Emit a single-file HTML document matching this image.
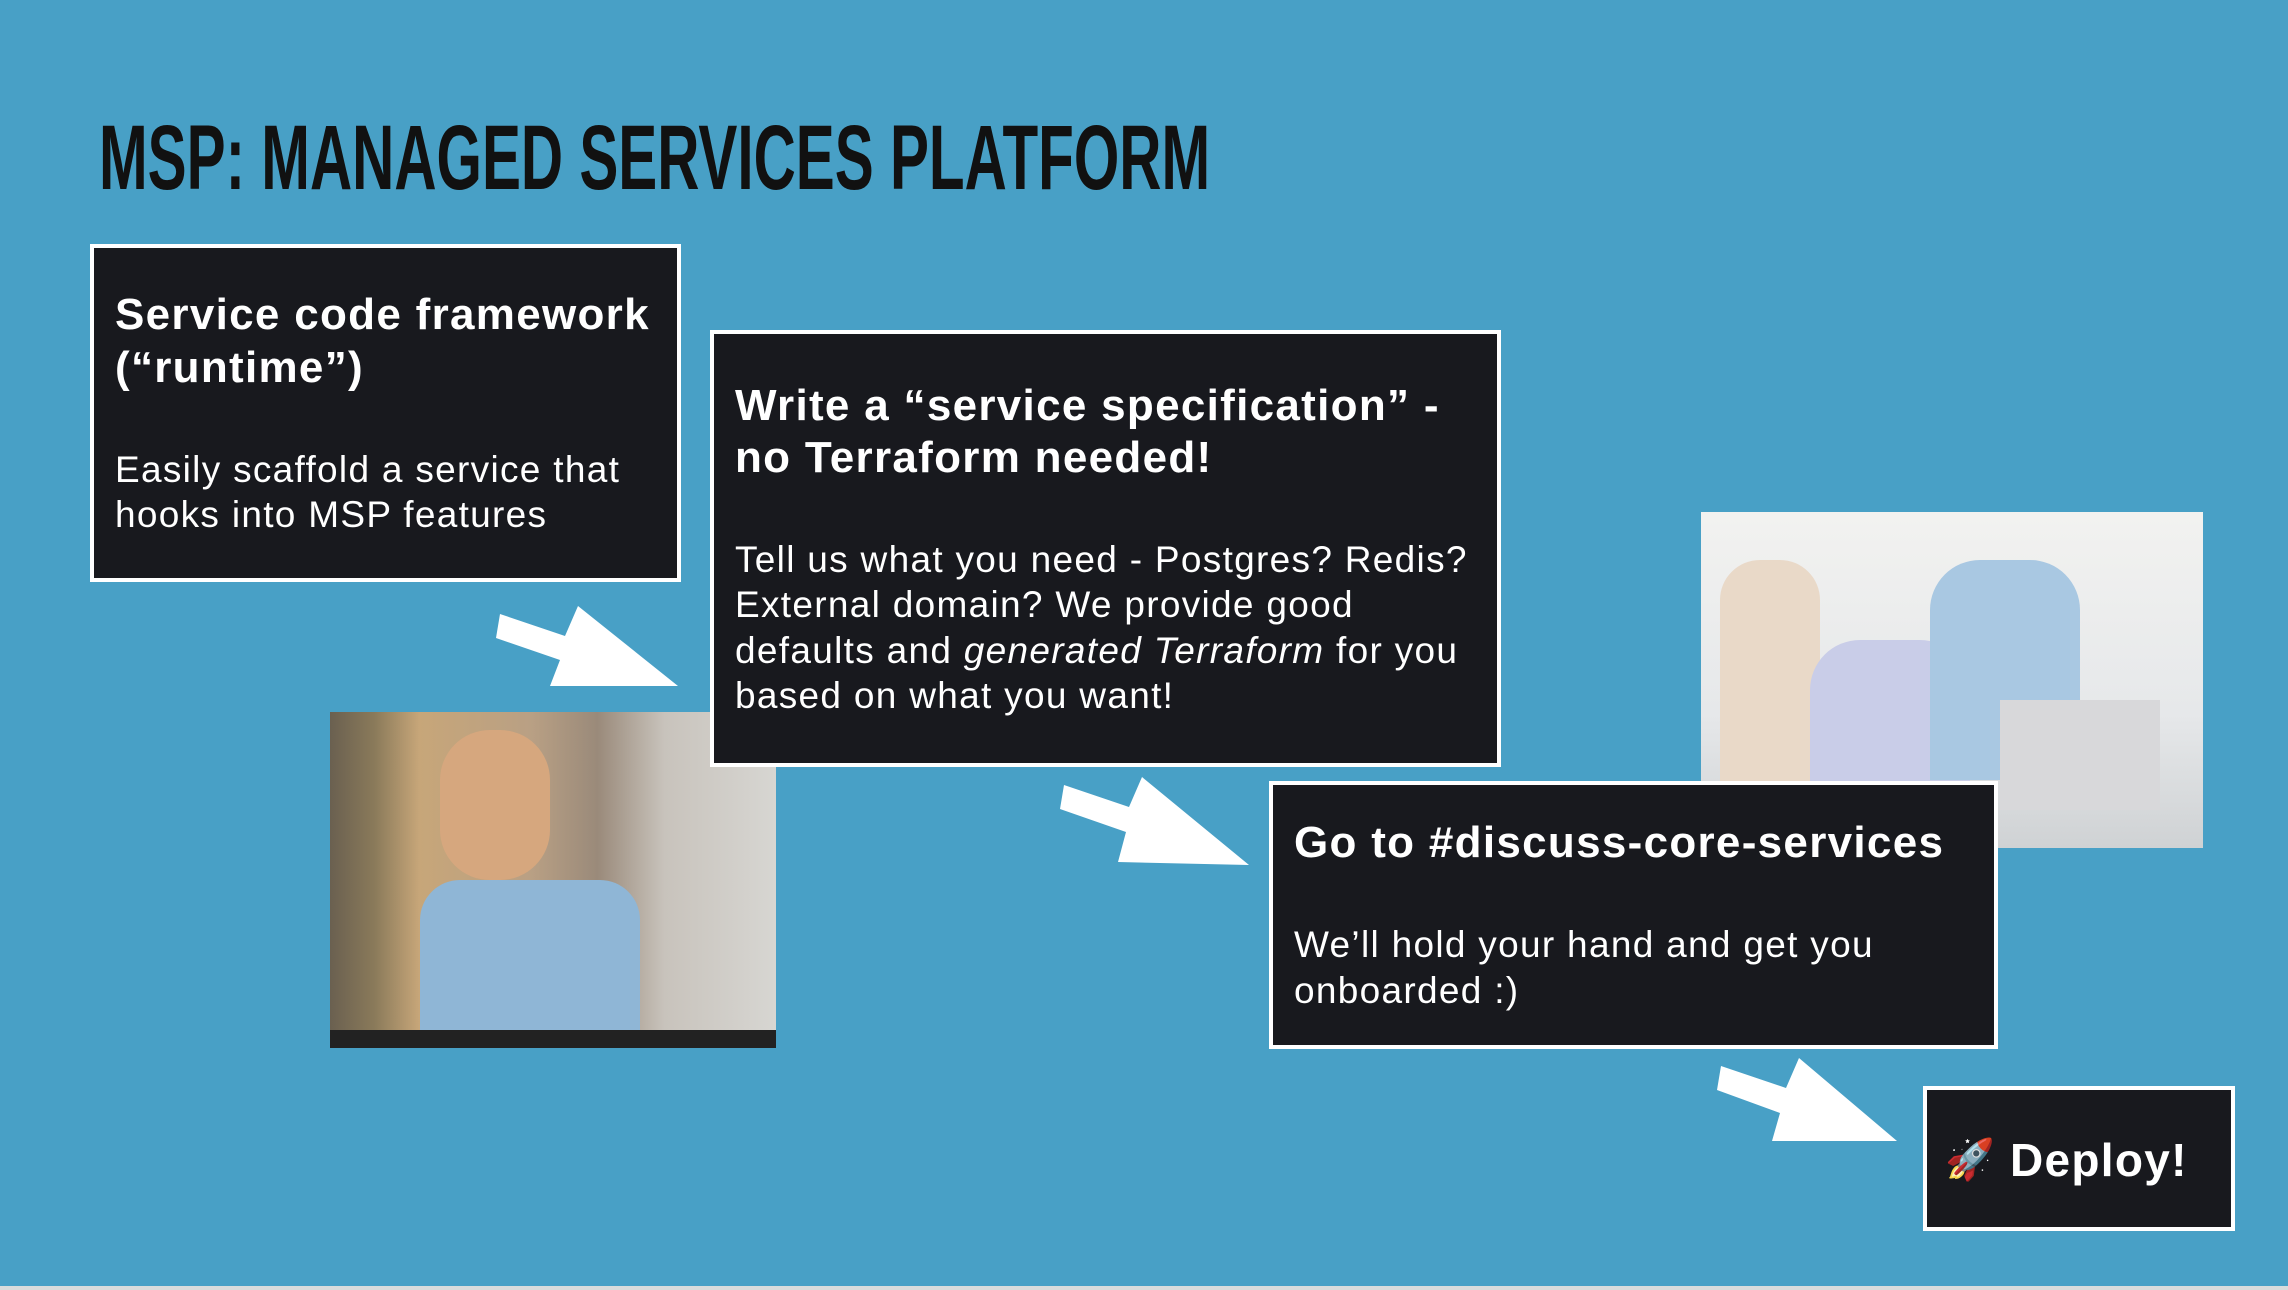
<!DOCTYPE html>
<html><head><meta charset="utf-8"><style>
body{margin:0;width:2288px;height:1290px;background:#48a0c6;position:relative;overflow:hidden;font-family:"Liberation Sans",sans-serif;}
.t{position:absolute;left:99px;top:112px;font-size:92px;font-weight:bold;color:#111;white-space:nowrap;transform:scaleX(0.635);transform-origin:left top;line-height:92px;}
.box{position:absolute;background:#18191e;border:4px solid #fff;box-sizing:border-box;}
.l{position:absolute;color:#fff;white-space:nowrap;}
.h{font-size:44px;font-weight:bold;line-height:46px;letter-spacing:1.3px;}
.b{font-size:37px;line-height:44px;letter-spacing:1.3px;}
.ph{position:absolute;}
</style></head><body>
<div class="t">MSP: MANAGED SERVICES PLATFORM</div>
<div class="ph" style="left:330px;top:712px;width:446px;height:336px;background:linear-gradient(90deg,#6a6050 0%,#8a7a5a 10%,#c7a679 20%,#b9a084 45%,#9a8a7a 60%,#c8c3bc 75%,#d7d6d2 100%);"></div>
<div class="ph" style="left:420px;top:880px;width:220px;height:150px;background:#8fb6d6;border-radius:40px 40px 0 0;"></div>
<div class="ph" style="left:440px;top:730px;width:110px;height:150px;background:#d6a77e;border-radius:50px;"></div>
<div class="ph" style="left:330px;top:1030px;width:446px;height:18px;background:#222;"></div>
<div class="ph" style="left:1701px;top:512px;width:502px;height:336px;background:linear-gradient(180deg,#f2f2f0,#e6e8ea 60%,#cfd2d4);"></div>
<div class="ph" style="left:1720px;top:560px;width:100px;height:230px;background:#e9d9c8;border-radius:40px 40px 0 0;"></div>
<div class="ph" style="left:1810px;top:640px;width:160px;height:210px;background:#c9cde8;border-radius:50px 50px 0 0;"></div>
<div class="ph" style="left:1930px;top:560px;width:150px;height:220px;background:#a9c8e2;border-radius:50px 50px 0 0;"></div>
<div class="ph" style="left:2000px;top:700px;width:160px;height:110px;background:#d8d8da;"></div>

<div class="box" style="left:90px;top:244px;width:591px;height:338px;"></div>
<div class="l h" style="left:115px;top:292px">Service code framework</div>
<div class="l h" style="left:115px;top:345px">(“runtime”)</div>
<div class="l b" style="left:115px;top:448px">Easily scaffold a service that</div>
<div class="l b" style="left:115px;top:493px">hooks into MSP features</div>

<div class="box" style="left:710px;top:330px;width:791px;height:437px;"></div>
<div class="l h" style="left:735px;top:383px">Write a “service specification” -</div>
<div class="l h" style="left:735px;top:435px">no Terraform needed!</div>
<div class="l b" style="left:735px;top:538px">Tell us what you need - Postgres? Redis?</div>
<div class="l b" style="left:735px;top:583px">External domain? We provide good</div>
<div class="l b" style="left:735px;top:629px">defaults and <i>generated Terraform</i> for you</div>
<div class="l b" style="left:735px;top:674px">based on what you want!</div>

<div class="box" style="left:1269px;top:781px;width:729px;height:268px;"></div>
<div class="l h" style="left:1294px;top:820px">Go to #discuss-core-services</div>
<div class="l b" style="left:1294px;top:923px">We’ll hold your hand and get you</div>
<div class="l b" style="left:1294px;top:969px">onboarded :)</div>

<div class="box" style="left:1923px;top:1086px;width:312px;height:145px;"></div>
<div class="l h" style="left:1945px;top:1137px;font-size:40px">🚀</div>
<div class="l h" style="left:2010px;top:1137px;font-size:46px">Deploy!</div>

<svg width="2288" height="1290" style="position:absolute;left:0;top:0">
<g fill="#fff">
<polygon points="500,614 565,636 578,606 678,686 550,686 560,660 496,638"/>
<polygon points="1064,785 1129,807 1142,777 1249,865 1118,862 1126,832 1060,809"/>
<polygon points="1721,1066 1786,1088 1799,1058 1897,1141 1772,1141 1780,1113 1717,1090"/>
</g>
</svg>
<div style="position:absolute;left:0;top:1286px;width:2288px;height:4px;background:#d9dcdc"></div>
</body></html>
